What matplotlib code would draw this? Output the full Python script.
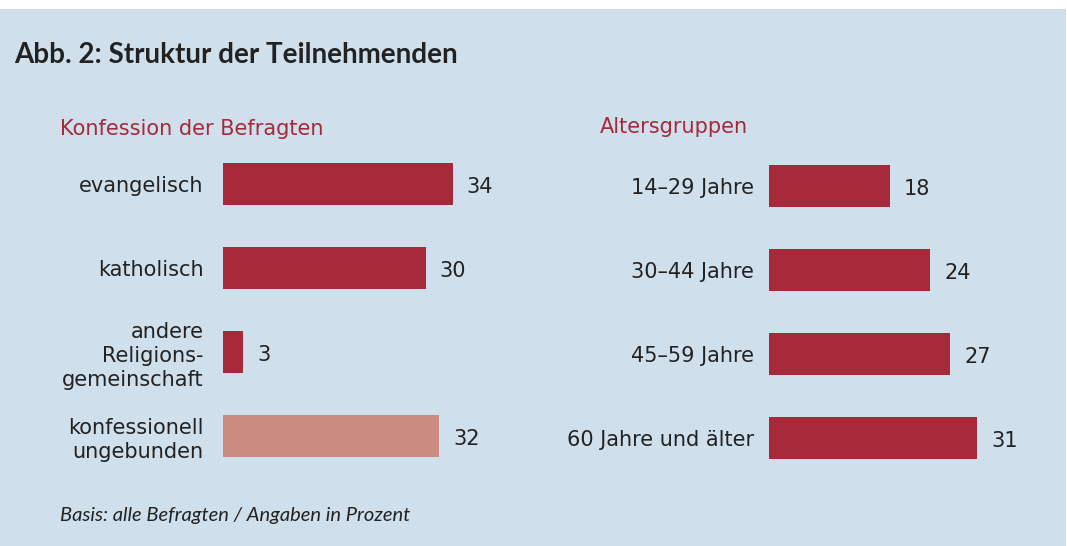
import matplotlib
matplotlib.use("Agg")
import matplotlib.pyplot as plt
from matplotlib.patches import Rectangle

# ---------------------------------------------------------------------
# data
konf_labels = ["evangelisch", "katholisch", "andere\nReligions-\ngemeinschaft",
               "konfessionell\nungebunden"]
konf_values = [34, 30, 3, 32]
alter_labels = ["14\u201329 Jahre", "30\u201344 Jahre", "45\u201359 Jahre",
                "60 Jahre und \u00e4lter"]
alter_values = [18, 24, 27, 31]
# ---------------------------------------------------------------------
bg = "#cfdfeb"
red = "#a62a3a"
rose = "#cc8b80"
txt = "#222222"

W, H = 1067, 546
fig = plt.figure(figsize=(W / 100, H / 100), dpi=100)
fig.patch.set_facecolor("white")
fig.add_artist(Rectangle((0, 0), 1066 / W, 537 / H, transform=fig.transFigure,
                         facecolor=bg, edgecolor="none", zorder=0))


def px_axes(left, top, width, height):
    return fig.add_axes([left / W, (H - top - height) / H, width / W, height / H])


def draw_panel(ax, labels, values, colors, scale, pad):
    ys = list(range(len(values)))
    ax.barh(ys, values, height=0.5, color=colors, zorder=2)
    ax.set_xlim(0, ax.get_position().width * W / scale)
    ax.set_ylim(3.5, -0.5)
    ax.set_yticks(ys)
    ax.set_yticklabels(labels, fontsize=15, color=txt, family="DejaVu Sans",
                       ha="right", linespacing=1.25)
    ax.tick_params(axis="y", length=0, pad=pad)
    ax.set_xticks([])
    for s in ax.spines.values():
        s.set_visible(False)
    ax.patch.set_visible(False)
    for y, v in zip(ys, values):
        ax.annotate(str(v), (v, y), xytext=(10, -2), textcoords="offset points",
                    va="center", ha="left", fontsize=15, color=txt,
                    family="DejaVu Sans")


axL = px_axes(223, 142, 300, 336)
draw_panel(axL, konf_labels, konf_values, [red, red, red, rose], 6.76, 14)

axR = px_axes(769, 144, 280, 336)
draw_panel(axR, alter_labels, alter_values, [red] * 4, 6.72, 11)

fig.text(14 / W, 1 - 55 / H, "Abb. 2: Struktur der Teilnehmenden", fontsize=20,
         fontweight="bold", family="Lato", color=txt, va="center", ha="left")
fig.text(60 / W, 1 - 129 / H, "Konfession der Befragten", fontsize=15,
         family="DejaVu Sans", color=red, va="center", ha="left")
fig.text(600 / W, 1 - 127 / H, "Altersgruppen", fontsize=15,
         family="DejaVu Sans", color=red, va="center", ha="left")
fig.text(60 / W, 1 - 516 / H, "Basis: alle Befragten / Angaben in Prozent",
         fontsize=14.5, family="Lato", style="italic", color=txt,
         va="center", ha="left")

fig.savefig("out.png", dpi=100, facecolor=fig.get_facecolor())
